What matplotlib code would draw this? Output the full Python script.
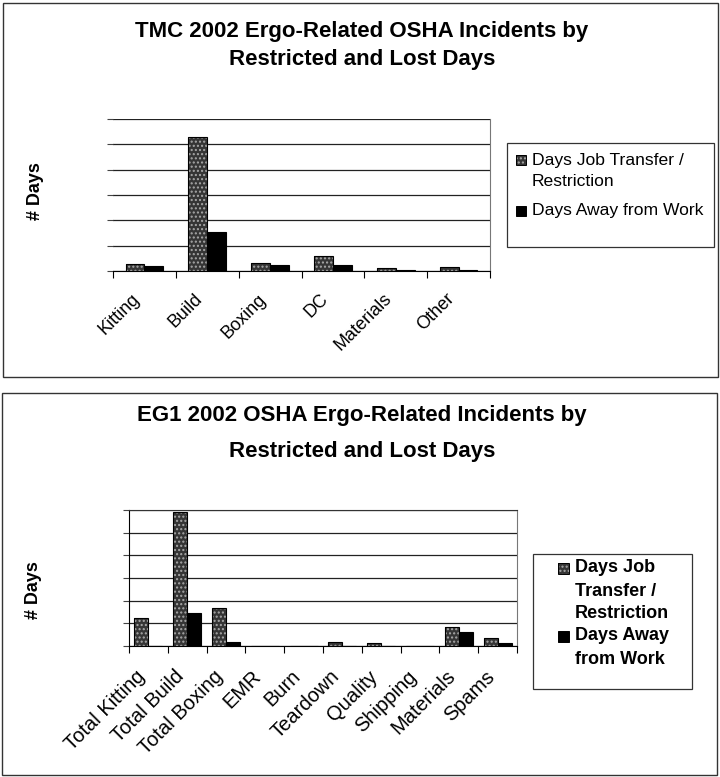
import matplotlib
matplotlib.use("Agg")
import matplotlib.pyplot as plt
import matplotlib.transforms as mtransforms
import numpy as np
from matplotlib.patches import Rectangle

plt.rcParams['font.family'] = ['Liberation Sans', 'DejaVu Sans']

# ---- data (relative units: 1 unit = 1 gridline) ----
top_categories = ["Kitting", "Build", "Boxing", "DC", "Materials", "Other"]
top_transfer = [0.27, 5.3, 0.32, 0.58, 0.12, 0.16]
top_away = [0.20, 1.52, 0.25, 0.23, 0.02, 0.04]

bot_categories = ["Total Kitting", "Total Build", "Total Boxing", "EMR", "Burn",
                  "Teardown", "Quality", "Shipping", "Materials", "Spams"]
bot_transfer = [1.22, 5.92, 1.66, 0.0, 0.0, 0.16, 0.15, 0.0, 0.85, 0.37]
bot_away = [0.0, 1.44, 0.19, 0.0, 0.0, 0.0, 0.0, 0.0, 0.62, 0.15]

series_labels_top = ["Days Job Transfer /\nRestriction", "Days Away from Work"]
series_labels_bot = ["Days Job\nTransfer /\nRestriction", "Days Away\nfrom Work"]

W, H = 720, 777
fig = plt.figure(figsize=(W / 100, H / 100), dpi=100)

def fx(px):
    return px / W

def fy(py):
    return 1 - py / H

STIP_FACE = '#353535'
STIP_DOT = '#a8a8a8'

def draw_bars(ax, x, vals, width, stipple):
    if stipple:
        ax.bar(x, vals, width, color=STIP_FACE, edgecolor=STIP_DOT, hatch='....',
               linewidth=0, zorder=3)
        ax.bar(x, vals, width, facecolor='none', edgecolor='black', linewidth=0.8, zorder=4)
    else:
        ax.bar(x, vals, width, color='black', edgecolor='black', linewidth=0.8, zorder=3)

def setup_axes(ax, ncat, labels, fontsize, pad, dx, show_left, show_top):
    ax.set_xlim(-0.5, ncat - 0.5)
    ax.set_ylim(0, 6)
    ax.set_yticks(np.arange(0, 7, 1))
    ax.set_yticklabels([])
    ax.yaxis.grid(True, color='#222222', linewidth=0.9, zorder=0)
    ax.set_axisbelow(True)
    # ticks between categories
    ax.set_xticks(np.arange(-0.5, ncat, 1.0))
    ax.set_xticklabels([])
    ax.set_xticks(np.arange(ncat), minor=True)
    ax.set_xticklabels(labels, minor=True, rotation=45, ha='right', va='top',
                       rotation_mode='anchor', fontsize=fontsize)
    ax.tick_params(axis='x', which='minor', length=0, pad=pad)
    ax.tick_params(axis='x', which='major', length=5, direction='out', color='black')
    ax.tick_params(axis='y', length=4, direction='out', color='#444444')
    off = mtransforms.ScaledTranslation(dx / 100, 0, fig.dpi_scale_trans)
    for lab in ax.get_xticklabels(minor=True):
        lab.set_transform(lab.get_transform() + off)
    for s in ['top', 'right']:
        ax.spines[s].set_color('#777777')
        ax.spines[s].set_linewidth(0.8)
    ax.spines['top'].set_visible(show_top)
    ax.spines['left'].set_visible(show_left)
    ax.spines['left'].set_color('black')
    ax.spines['bottom'].set_color('black')

def draw_legend(box, labels, handle_x, handle_size, text_x, line_ys, fontsize, weight):
    x0, y0, x1, y1 = box
    fig.patches.append(Rectangle((fx(x0), fy(y1)), fx(x1 - x0), (y1 - y0) / H,
                                 transform=fig.transFigure, fill=False,
                                 edgecolor='#333333', linewidth=0.9))
    li = 0
    for k, lab in enumerate(labels):
        lines = lab.split('\n')
        yc = line_ys[li]
        s = handle_size
        if k == 0:
            fig.patches.append(Rectangle((fx(handle_x), fy(yc + s / 2)), fx(s), s / H,
                                         transform=fig.transFigure, facecolor=STIP_FACE,
                                         edgecolor=STIP_DOT, hatch='....', linewidth=0))
            fig.patches.append(Rectangle((fx(handle_x), fy(yc + s / 2)), fx(s), s / H,
                                         transform=fig.transFigure, facecolor='none',
                                         edgecolor='black', linewidth=0.7))
        else:
            fig.patches.append(Rectangle((fx(handle_x), fy(yc + s / 2)), fx(s), s / H,
                                         transform=fig.transFigure, facecolor='black',
                                         edgecolor='black', linewidth=0.7))
        for ln in lines:
            fig.text(fx(text_x), fy(line_ys[li]), ln, ha='left', va='center',
                     fontsize=fontsize, fontweight=weight)
            li += 1

# ---- panel borders ----
fig.patches.append(Rectangle((fx(3), fy(377)), fx(715), 374 / H, transform=fig.transFigure,
                             fill=False, edgecolor='#333333', linewidth=1.0))
fig.patches.append(Rectangle((fx(2), fy(775)), fx(715), 382 / H, transform=fig.transFigure,
                             fill=False, edgecolor='#333333', linewidth=1.0))

# ---- top chart ----
axT = fig.add_axes([fx(113), fy(271), fx(490 - 113), (271 - 119) / H])
xt = np.arange(len(top_categories))
bw = 0.3
draw_bars(axT, xt - bw / 2, top_transfer, bw, True)
draw_bars(axT, xt + bw / 2, top_away, bw, False)
setup_axes(axT, len(top_categories), top_categories, 13, 14, -13, show_left=False, show_top=False)

fig.text(fx(362), fy(31), "TMC 2002 Ergo-Related OSHA Incidents by", ha='center', va='center',
         fontsize=16, fontweight='bold')
fig.text(fx(362), fy(59), "Restricted and Lost Days", ha='center', va='center',
         fontsize=16, fontweight='bold')
fig.text(fx(36), fy(191), "# Days", rotation=90, ha='center', va='center',
         fontsize=13, fontweight='bold')

draw_legend((507, 143, 714, 247), series_labels_top, 516, 10, 532,
            [160, 181, 211], 12.6, 'normal')

# ---- bottom chart ----
axB = fig.add_axes([fx(129), fy(646), fx(517 - 129), (646 - 510) / H])
xb = np.arange(len(bot_categories))
bw2 = 0.36
draw_bars(axB, xb - bw2 / 2, bot_transfer, bw2, True)
draw_bars(axB, xb + bw2 / 2, bot_away, bw2, False)
setup_axes(axB, len(bot_categories), bot_categories, 14.5, 15, -13, show_left=True, show_top=True)
axB.spines['top'].set_color('#333333')

fig.text(fx(362), fy(415), "EG1 2002 OSHA Ergo-Related Incidents by", ha='center', va='center',
         fontsize=16, fontweight='bold')
fig.text(fx(362), fy(452), "Restricted and Lost Days", ha='center', va='center',
         fontsize=16, fontweight='bold')
fig.text(fx(34), fy(590), "# Days", rotation=90, ha='center', va='center',
         fontsize=13, fontweight='bold')

draw_legend((533, 554, 692, 689), series_labels_bot, 558, 11, 575,
            [568, 591, 614, 636, 659], 13, 'bold')

fig.savefig("out.png", dpi=100)
